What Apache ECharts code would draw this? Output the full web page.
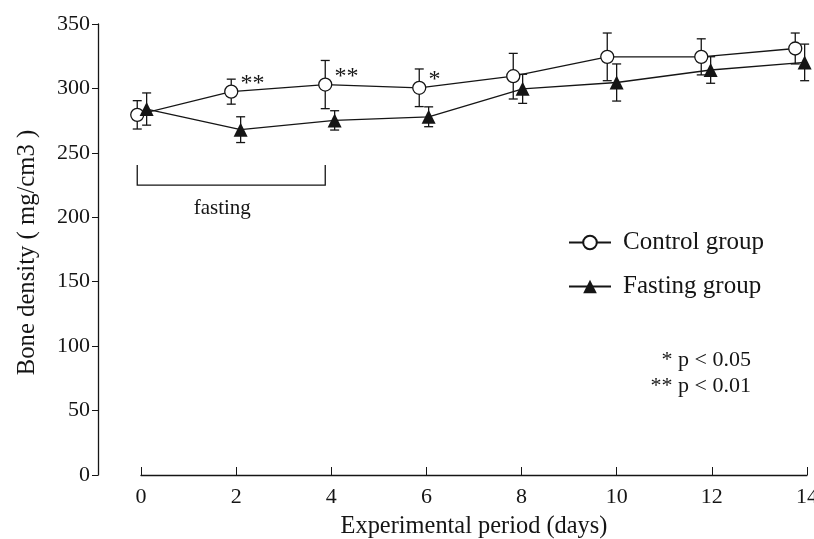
<!DOCTYPE html>
<html>
<head>
<meta charset="utf-8">
<script src="https://cdn.jsdelivr.net/npm/echarts@6/dist/echarts.min.js"></script>
<style>
  html, body { margin: 0; padding: 0; background: #fff; }
  #chart { width: 814px; height: 539px; }
</style>
</head>
<body>
<div id="chart"></div>
<script>
// Bone density over the experimental period (mean ± SD)
const days = [0, 2, 4, 6, 8, 10, 12, 14];
const controlMean = [279.5, 297.5, 303, 300.5, 309.5, 324.5, 324.5, 331];
const controlSD   = [11, 9.7, 18.7, 14.6, 17.7, 18.5, 14, 12];
const fastingMean = [284, 268, 275.2, 278, 299.7, 304.6, 314.3, 320.2];
const fastingSD   = [12.5, 10, 7.5, 7.7, 11.3, 14.4, 10.3, 14.2];
// significance marks next to the control points
const controlStars = ['', '**', '**', '*', '', '', '', ''];
const yTicks = { min: 0, max: 350, step: 50 };
const xTicks = { min: 0, max: 14, step: 2 };
const fastingPeriod = [0, 4];
const seriesNames = ['Control group', 'Fasting group'];
const pNotes = ['* p < 0.05', '** p < 0.01'];

const DODGE = 0.1;           // horizontal shift so the two groups' error bars don't overlap
const FONT = '"Liberation Serif", "Times New Roman", serif';
const INK = '#151515';
const LW = 1.3;

const points = (mean, shift) => days.map((d, i) => [d + shift, mean[i]]);
const errRows = (mean, sd, shift) => days.map((d, i) => [d + shift, mean[i] - sd[i], mean[i] + sd[i]]);

function renderErr(params, api) {
  const x = api.value(0);
  const lo = api.coord([x, api.value(1)]);
  const hi = api.coord([x, api.value(2)]);
  const c = 4.5;
  const st = { stroke: INK, lineWidth: LW };
  return {
    type: 'group',
    children: [
      { type: 'line', shape: { x1: lo[0], y1: lo[1], x2: hi[0], y2: hi[1] }, style: st },
      { type: 'line', shape: { x1: lo[0] - c, y1: lo[1], x2: lo[0] + c, y2: lo[1] }, style: st },
      { type: 'line', shape: { x1: hi[0] - c, y1: hi[1], x2: hi[0] + c, y2: hi[1] }, style: st }
    ]
  };
}

function renderBracket(params, api) {
  const a = api.coord([api.value(0), api.value(2)]);
  const b = api.coord([api.value(1), api.value(2)]);
  const h = 20;
  return {
    type: 'group',
    children: [
      {
        type: 'polyline',
        shape: { points: [[a[0], a[1] - h], [a[0], a[1]], [b[0], b[1]], [b[0], b[1] - h]] },
        style: { stroke: INK, lineWidth: LW, fill: null }
      },
      {
        type: 'text',
        x: (a[0] + b[0]) / 2 - 9,
        y: a[1] + 23,
        style: { text: 'fasting', fill: INK, fontSize: 21, fontFamily: FONT, align: 'center', verticalAlign: 'middle' }
      }
    ]
  };
}

const chart = echarts.init(document.getElementById('chart'), null, { renderer: 'canvas' });

chart.setOption({
  animation: false,
  backgroundColor: '#fff',
  grid: { left: 141, right: 7, top: 24, bottom: 64, containLabel: false, outerBoundsMode: 'none' },
  legend: {
    data: seriesNames,
    orient: 'vertical',
    left: 568,
    top: 229,
    padding: 0,
    itemWidth: 42,
    itemHeight: 17,
    itemGap: 17,
    textStyle: { fontFamily: FONT, fontSize: 25, color: INK, lineHeight: 27, padding: [0, 0, 0, 7] }
  },
  xAxis: [
    { type: 'value', min: -0.02, max: 14.15, show: false, position: 'top' },
    {
      type: 'value',
      position: 'bottom',
      min: xTicks.min, max: xTicks.max, interval: xTicks.step,
      axisLine: { show: true, onZero: false, lineStyle: { color: INK, width: LW } },
      axisTick: { show: true, inside: true, length: 8, lineStyle: { color: INK, width: 1 } },
      axisLabel: { fontFamily: FONT, fontSize: 22, color: INK, margin: 11 },
      splitLine: { show: false },
      name: 'Experimental period (days)',
      nameLocation: 'middle',
      nameGap: 40,
      nameTextStyle: { fontFamily: FONT, fontSize: 24.4, color: INK }
    }
  ],
  yAxis: {
    type: 'value',
    min: yTicks.min, max: yTicks.max, interval: yTicks.step,
    offset: 43,
    axisLine: { show: true, onZero: false, lineStyle: { color: INK, width: LW } },
    axisTick: { show: true, length: 6, lineStyle: { color: INK, width: 1 } },
    axisLabel: { fontFamily: FONT, fontSize: 22, color: INK, margin: 8 },
    splitLine: { show: false },
    name: 'Bone density ( mg/cm3 )',
    nameLocation: 'middle',
    nameGap: 58,
    nameTextStyle: { fontFamily: FONT, fontSize: 24.7, color: INK, padding: [0, 6, 0, 0] }
  },
  series: [
    {
      name: 'controlErr', type: 'custom', xAxisIndex: 0, z: 1, clip: false,
      data: errRows(controlMean, controlSD, -DODGE), renderItem: renderErr
    },
    {
      name: 'fastingErr', type: 'custom', xAxisIndex: 0, z: 1, clip: false,
      data: errRows(fastingMean, fastingSD, DODGE), renderItem: renderErr
    },
    {
      name: seriesNames[0], type: 'line', xAxisIndex: 0, z: 3, clip: false,
      data: points(controlMean, -DODGE),
      symbol: 'circle', symbolSize: 13, showAllSymbol: true,
      lineStyle: { color: INK, width: LW },
      itemStyle: { color: '#fff', borderColor: INK, borderWidth: LW },
      label: {
        show: true, position: 'right', distance: 2, offset: [0, -8],
        formatter: p => controlStars[p.dataIndex],
        fontFamily: FONT, fontSize: 24, color: INK
      }
    },
    {
      name: seriesNames[1], type: 'line', xAxisIndex: 0, z: 4, clip: false,
      data: points(fastingMean, DODGE),
      symbol: 'triangle', symbolSize: 14, showAllSymbol: true,
      lineStyle: { color: INK, width: LW },
      itemStyle: { color: INK }
    },
    {
      name: 'fastingPeriod', type: 'custom', xAxisIndex: 0, z: 1, clip: false,
      data: [[fastingPeriod[0] - DODGE, fastingPeriod[1] - DODGE, 225]],
      renderItem: renderBracket
    }
  ],
  graphic: pNotes.map((t, i) => ({
    type: 'text',
    x: 751,
    y: 360 + i * 26,
    style: { text: t, fill: INK, fontSize: 22, fontFamily: FONT, align: 'right', verticalAlign: 'middle' }
  }))
});
</script>
</body>
</html>
